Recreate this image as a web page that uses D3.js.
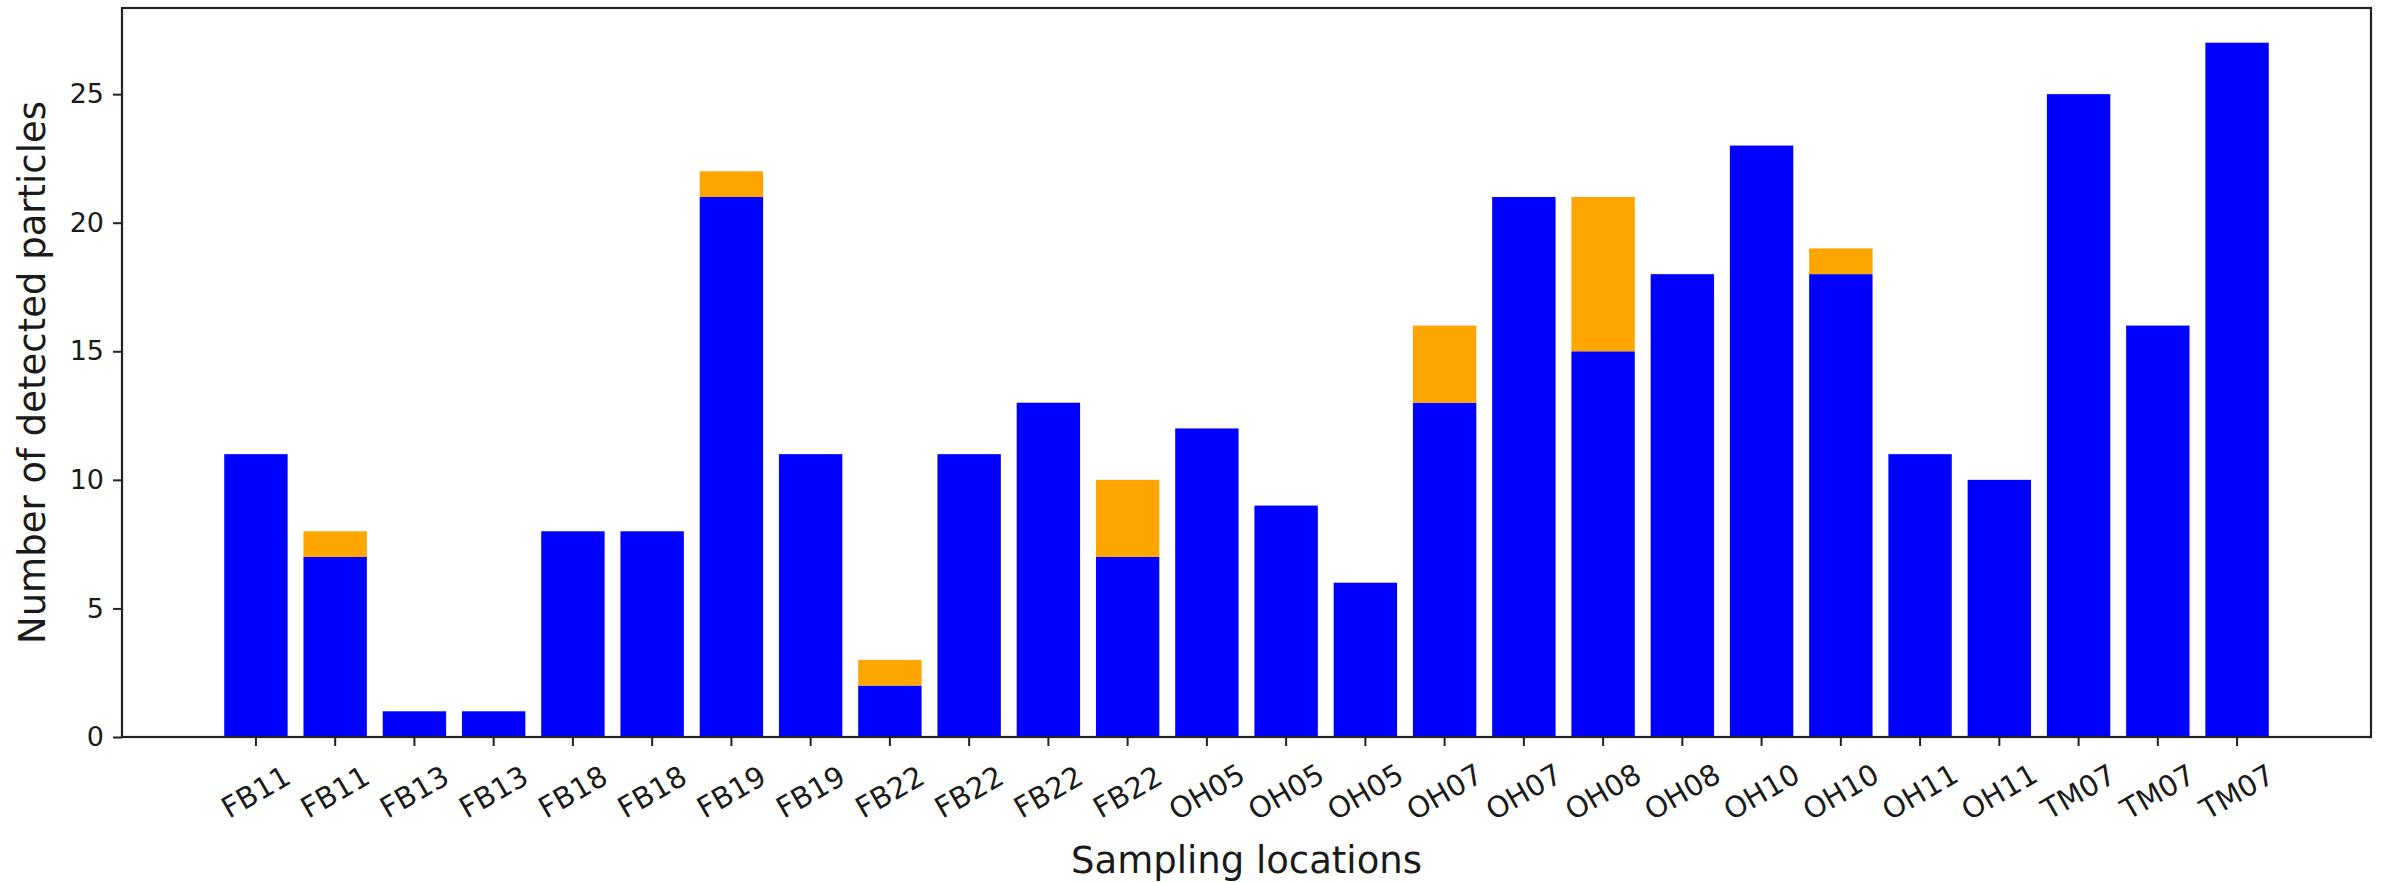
<!DOCTYPE html>
<html>
<head>
<meta charset="utf-8">
<script src="https://cdn.jsdelivr.net/npm/d3@7"></script>
<style>
  html, body { margin: 0; padding: 0; background: #ffffff; }
  svg { display: block; }
  text { font-family: "DejaVu Sans", sans-serif; fill: #1a1a1a; }
</style>
</head>
<body>
<svg id="chart" width="2384" height="882"></svg>
<script>
// Sampling locations (one bar per sample)
const categories = ["FB11","FB11","FB13","FB13","FB18","FB18","FB19","FB19","FB22","FB22","FB22","FB22",
                    "OH05","OH05","OH05","OH07","OH07","OH08","OH08","OH10","OH10","OH11","OH11",
                    "TM07","TM07","TM07"];
// Base series (blue) and stacked series (orange)
const blueCounts   = [11,7,1,1,8,8,21,11,2,11,13,7,12,9,6,13,21,15,18,23,18,11,10,25,16,27];
const orangeCounts = [0,1,0,0,0,0,1,0,1,0,0,3,0,0,0,3,0,6,0,0,1,0,0,0,0,0];
const yTicks = [0, 5, 10, 15, 20, 25];

const plot = { left: 122, right: 2371, top: 8, bottom: 737 };
const svg = d3.select("#chart");

const idx = d3.range(categories.length);
const totals = idx.map(i => blueCounts[i] + orangeCounts[i]);

const x = d3.scaleBand()
  .domain(idx)
  .range([plot.left, plot.right])
  .paddingInner(0.2)
  .paddingOuter(1.29);

const y = d3.scaleLinear()
  .domain([0, d3.max(totals) * 1.05])
  .range([plot.bottom, plot.top]);

// bars: blue at the base, orange stacked on top
const g = svg.append("g");
g.selectAll("rect.blue")
  .data(idx)
  .join("rect")
  .attr("class", "blue")
  .attr("x", i => x(i))
  .attr("width", x.bandwidth())
  .attr("y", i => y(blueCounts[i]))
  .attr("height", i => y(0) - y(blueCounts[i]))
  .attr("fill", "#0000ff");

g.selectAll("rect.orange")
  .data(idx.filter(i => orangeCounts[i] > 0))
  .join("rect")
  .attr("class", "orange")
  .attr("x", i => x(i))
  .attr("width", x.bandwidth())
  .attr("y", i => y(blueCounts[i] + orangeCounts[i]))
  .attr("height", i => y(blueCounts[i]) - y(blueCounts[i] + orangeCounts[i]))
  .attr("fill", "#ffa500");

// y axis
const yAxis = svg.append("g")
  .attr("transform", `translate(${plot.left},0)`)
  .call(d3.axisLeft(y).tickValues(yTicks).tickSize(9).tickPadding(9).tickFormat(d3.format("d")));
yAxis.select(".domain").remove();
yAxis.selectAll(".tick line").attr("stroke", "#222").attr("stroke-width", 2);
yAxis.selectAll(".tick text")
  .attr("font-size", 27)
  .attr("font-family", "DejaVu Sans")
  .attr("fill", "#1a1a1a");

// x axis with rotated labels
const xAxis = svg.append("g")
  .attr("transform", `translate(0,${plot.bottom})`)
  .call(d3.axisBottom(x).tickSize(9).tickFormat(i => categories[i]));
xAxis.select(".domain").remove();
xAxis.selectAll(".tick line").attr("stroke", "#222").attr("stroke-width", 2);
xAxis.selectAll(".tick text")
  .attr("font-size", 29)
  .attr("font-family", "DejaVu Sans")
  .attr("fill", "#1a1a1a")
  .attr("text-anchor", "middle")
  .attr("dy", null)
  .attr("y", null)
  .attr("dominant-baseline", "central")
  .attr("transform", "translate(0,55) rotate(-30)");

// frame
svg.append("rect")
  .attr("x", plot.left)
  .attr("y", plot.top)
  .attr("width", plot.right - plot.left)
  .attr("height", plot.bottom - plot.top)
  .attr("fill", "none")
  .attr("stroke", "#222")
  .attr("stroke-width", 2.2);

// axis titles
svg.append("text")
  .attr("x", (plot.left + plot.right) / 2)
  .attr("y", 873)
  .attr("text-anchor", "middle")
  .attr("font-size", 37)
  .text("Sampling locations");

svg.append("text")
  .attr("transform", `translate(45,${(plot.top + plot.bottom) / 2}) rotate(-90)`)
  .attr("text-anchor", "middle")
  .attr("font-size", 37)
  .text("Number of detected particles");
</script>
</body>
</html>
